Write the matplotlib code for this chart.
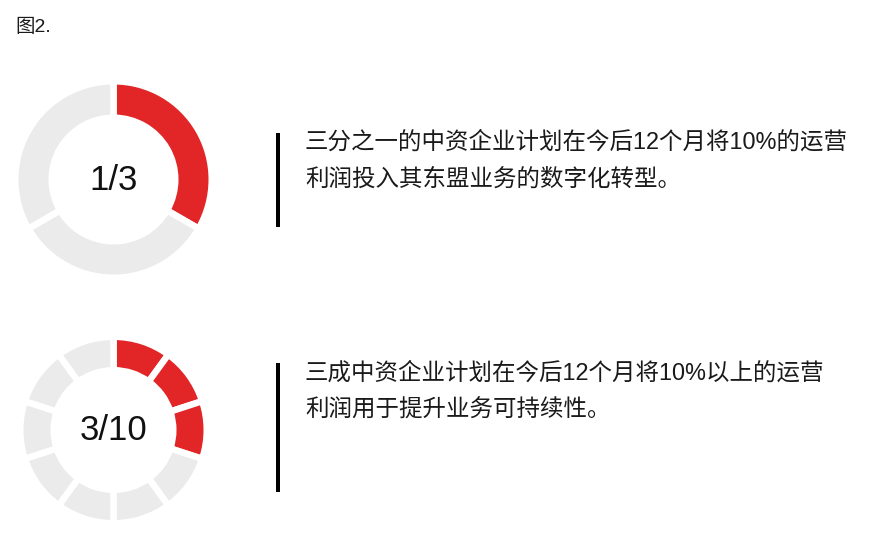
import matplotlib
matplotlib.use("Agg")
import matplotlib.pyplot as plt

# chart data
title = "图2."
donut_labels = ["1/3", "3/10"]
donut_parts = [3, 10]
donut_filled = [1, 3]
notes = [
    ["三分之一的中资企业计划在今后12个月将10%的运营",
     "利润投入其东盟业务的数字化转型。"],
    ["三成中资企业计划在今后12个月将10%以上的运营",
     "利润用于提升业务可持续性。"],
]

RED = "#e22526"
GREY = "#ebebeb"
FONT = ["Liberation Sans", "Noto Sans CJK SC", "DejaVu Sans"]

W, H = 870, 535
fig = plt.figure(figsize=(W / 100, H / 100), dpi=100)
ax = fig.add_axes([0, 0, 1, 1])

# layout in pixels (y measured from the top)
centers = [(113.5, 179.5), (113.5, 430)]
outer = [95, 90]
ring = [30, 27]
gap_px = 6.5
bars = [(133, 227), (363, 492)]
line_y = [[142, 179], [373, 410]]

for i in range(2):
    cx, cy = centers[i]
    vals = [1] * donut_parts[i]
    cols = [RED if k < donut_filled[i] else GREY for k in range(donut_parts[i])]
    ax.pie(vals, colors=cols, startangle=90, counterclock=False,
           center=(cx, H - cy), radius=outer[i] + gap_px / 2,
           wedgeprops=dict(width=ring[i] + gap_px, edgecolor="white",
                           linewidth=gap_px * 0.72),
           frame=True)
    ax.text(cx, H - cy - 1, donut_labels[i], ha="center", va="center",
            fontsize=25, color="#111111", family=FONT)

    y0, y1 = bars[i]
    ax.plot([278, 278], [H - y0, H - y1], color="black", lw=4 * 0.72,
            solid_capstyle="butt")
    for line, y in zip(notes[i], line_y[i]):
        ax.text(305, H - y, line, ha="left", va="center", fontsize=16.9,
                color="#1a1a1a", family=FONT)

ax.text(15, H - 27, title, ha="left", va="center", fontsize=14,
        color="#1a1a1a", family=FONT)

ax.set_xlim(0, W)
ax.set_ylim(0, H)
ax.set_aspect("equal")
ax.axis("off")

fig.savefig("out.png", dpi=100)
